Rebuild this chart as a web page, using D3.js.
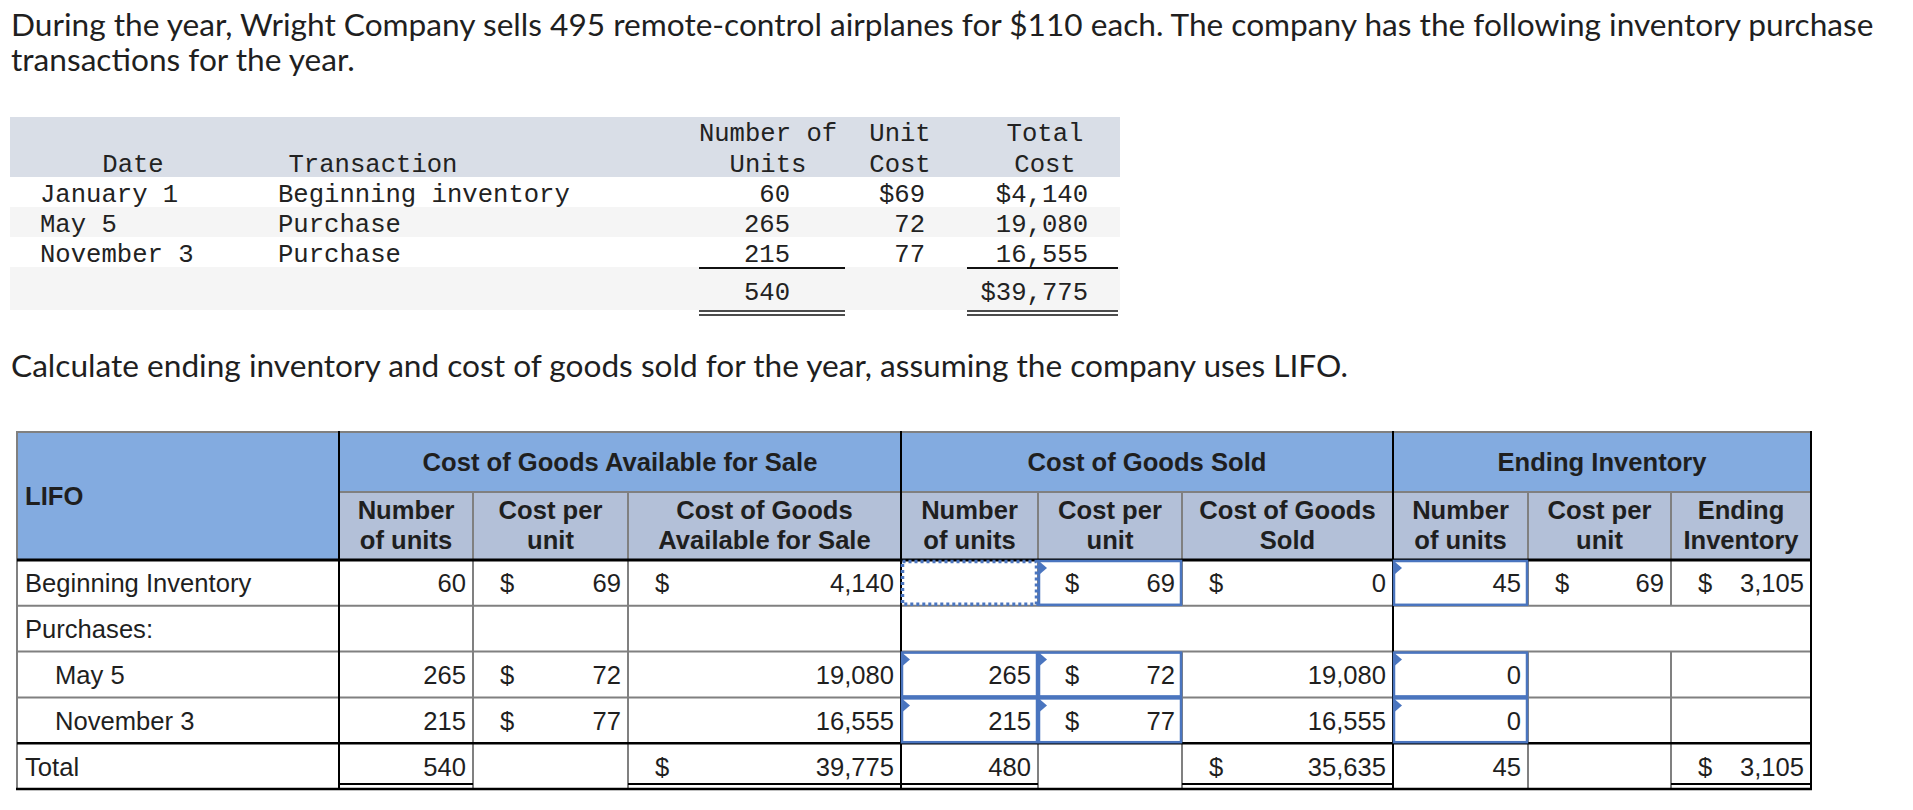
<!DOCTYPE html>
<html><head><meta charset="utf-8">
<script src="https://cdn.jsdelivr.net/npm/d3@7"></script>
<style>html,body{margin:0;padding:0;background:#fff;} svg{display:block}</style>
</head><body><svg id="c" width="1913" height="810"></svg>
<script>
// ---------------- DATA ----------------
const introLines = [
  "During the year, Wright Company sells 495 remote-control airplanes for $110 each. The company has the following inventory purchase",
  "transactions for the year."
];
const questionText = "Calculate ending inventory and cost of goods sold for the year, assuming the company uses LIFO.";

const purchaseHeaderTop = ["", "", "Number of", "Unit", "Total"];
const purchaseHeaderBottom = ["Date", "Transaction", "Units", "Cost", "Cost"];
const purchaseDates = ["January 1", "May 5", "November 3"];
const purchaseKinds = ["Beginning inventory", "Purchase", "Purchase"];
const purchaseUnits = [60, 265, 215];
const purchaseUnitCosts = [69, 72, 77];
const purchaseTotalCosts = [4140, 19080, 16555];
const purchaseUnitsTotal = 540;
const purchaseCostTotal = 39775;

const lifoTitle = "LIFO";
const lifoGroups = ["Cost of Goods Available for Sale", "Cost of Goods Sold", "Ending Inventory"];
const lifoSubHeaders = [
  ["Number", "of units"], ["Cost per", "unit"], ["Cost of Goods", "Available for Sale"],
  ["Number", "of units"], ["Cost per", "unit"], ["Cost of Goods", "Sold"],
  ["Number", "of units"], ["Cost per", "unit"], ["Ending", "Inventory"]
];
const lifoRows = ["Beginning Inventory", "Purchases:", "May 5", "November 3", "Total"];
const availUnits    = [60, null, 265, 215, 540];
const availUnitCost = [69, null, 72, 77, null];
const availCost     = [4140, null, 19080, 16555, 39775];
const soldUnits     = [null, null, 265, 215, 480];
const soldUnitCost  = [69, null, 72, 77, null];
const soldCost      = [0, null, 19080, 16555, 35635];
const endUnits      = [45, null, 0, 0, 45];
const endUnitCost   = [69, null, null, null, null];
const endCost       = [3105, null, null, null, 3105];

// ---------------- STYLE / LAYOUT ----------------
const svg = d3.select("#c");
const W = 1913, H = 810;
svg.append("rect").attr("width", W).attr("height", H).attr("fill", "#fff");
const PROSE = "Lato, 'Open Sans', sans-serif";
const MONO = "'Liberation Mono', 'Courier New', monospace";
const SANS = "'Liberation Sans', Arial, Helvetica, sans-serif";
const INK = "#1f1f1f";
const fmt = d3.format(",");

// ---- prose ----
const l1 = svg.append("text").attr("x", 11).attr("y", 36)
  .attr("font-family", PROSE).attr("font-size", 28).attr("fill", INK).text(introLines[0]);
const fitted = 28 * 1863 / l1.node().getComputedTextLength();
l1.attr("font-size", fitted);
svg.append("text").attr("x", 11).attr("y", 71)
  .attr("font-family", PROSE).attr("font-size", fitted).attr("fill", INK).text(introLines[1]);
svg.append("text").attr("x", 11).attr("y", 377)
  .attr("font-family", PROSE).attr("font-size", fitted).attr("fill", INK).text(questionText);

// ---- purchase table ----
const t1 = svg.append("g").attr("font-family", MONO).attr("font-size", 25.6).attr("fill", "#222");
const tLeft = 10, tRight = 1120;
t1.append("rect").attr("x", tLeft).attr("y", 117).attr("width", tRight - tLeft).attr("height", 60).attr("fill", "#d9dee7");
const pRow = d3.scaleBand().domain(d3.range(purchaseDates.length)).range([177, 267]);
t1.selectAll("rect.stripe").data(purchaseDates).join("rect").attr("class", "stripe")
  .attr("x", tLeft).attr("width", tRight - tLeft)
  .attr("y", (d, i) => pRow(i)).attr("height", pRow.bandwidth())
  .attr("fill", (d, i) => i % 2 ? "#f5f5f5" : "#fff");
t1.append("rect").attr("x", tLeft).attr("y", 267).attr("width", tRight - tLeft).attr("height", 43).attr("fill", "#f5f5f5");

const pColCenter = d3.scaleOrdinal().domain(d3.range(5)).range([133, 373, 768, 900, 1045]);
t1.selectAll("text.h1").data(purchaseHeaderTop).join("text").attr("class", "h1")
  .attr("x", (d, i) => pColCenter(i)).attr("y", 141).attr("text-anchor", "middle").text(d => d);
t1.selectAll("text.h2").data(purchaseHeaderBottom).join("text").attr("class", "h2")
  .attr("x", (d, i) => pColCenter(i)).attr("y", 172).attr("text-anchor", "middle").text(d => d);

const base = i => pRow(i) + pRow.bandwidth() / 2 + 10;
t1.selectAll("text.dt").data(purchaseDates).join("text").attr("class", "dt")
  .attr("x", 40).attr("y", (d, i) => base(i)).text(d => d);
t1.selectAll("text.kd").data(purchaseKinds).join("text").attr("class", "kd")
  .attr("x", 278).attr("y", (d, i) => base(i)).text(d => d);
t1.selectAll("text.un").data(purchaseUnits).join("text").attr("class", "un")
  .attr("x", 790).attr("y", (d, i) => base(i)).attr("text-anchor", "end").text(d => d);
t1.selectAll("text.uc").data(purchaseUnitCosts).join("text").attr("class", "uc")
  .attr("x", 925).attr("y", (d, i) => base(i)).attr("text-anchor", "end").text((d, i) => (i === 0 ? "$" : "") + d);
t1.selectAll("text.tc").data(purchaseTotalCosts).join("text").attr("class", "tc")
  .attr("x", 1088).attr("y", (d, i) => base(i)).attr("text-anchor", "end").text((d, i) => (i === 0 ? "$" : "") + fmt(d));
t1.append("text").attr("x", 790).attr("y", 300).attr("text-anchor", "end").text(purchaseUnitsTotal);
t1.append("text").attr("x", 1088).attr("y", 300).attr("text-anchor", "end").text("$" + fmt(purchaseCostTotal));
[[699, 845], [967, 1118]].forEach(([a, b]) => {
  t1.append("line").attr("x1", a).attr("x2", b).attr("y1", 268).attr("y2", 268).attr("stroke", "#111").attr("stroke-width", 2);
  t1.append("line").attr("x1", a).attr("x2", b).attr("y1", 311).attr("y2", 311).attr("stroke", "#111").attr("stroke-width", 1.5);
  t1.append("line").attr("x1", a).attr("x2", b).attr("y1", 315).attr("y2", 315).attr("stroke", "#111").attr("stroke-width", 1.5);
});

// ---- LIFO table ----
const colKeys = ["label", "aU", "aC", "aT", "sU", "sC", "sT", "eU", "eC", "eT"];
const colEdges = [17, 339, 473, 628, 901, 1038, 1182, 1393, 1528, 1671, 1811];
const xL = d3.scaleOrdinal().domain(colKeys).range(colEdges.slice(0, -1));
const xR = d3.scaleOrdinal().domain(colKeys).range(colEdges.slice(1));
const yRow = d3.scaleBand().domain(lifoRows).range([560, 789]);
const bw = yRow.bandwidth();
const T = svg.append("g");
const top0 = 432, mid = 492, hdrB = 560, bot = 789;
const HEAD1 = "#83abe0", HEAD2 = "#b3c0d8", GRAY = "#808080", BLUE = "#4a75bf";

// fills
T.append("rect").attr("x", 17).attr("y", top0).attr("width", 1811 - 17).attr("height", mid - top0).attr("fill", HEAD1);
T.append("rect").attr("x", 17).attr("y", mid).attr("width", 339 - 17).attr("height", hdrB - mid).attr("fill", HEAD1);
T.append("rect").attr("x", 339).attr("y", mid).attr("width", 1811 - 339).attr("height", hdrB - mid).attr("fill", HEAD2);

const hline = (x1, x2, y, c, w) => T.append("line").attr("x1", x1).attr("x2", x2).attr("y1", y).attr("y2", y).attr("stroke", c).attr("stroke-width", w);
const vline = (x, y1, y2, c, w) => T.append("line").attr("x1", x).attr("x2", x).attr("y1", y1).attr("y2", y2).attr("stroke", c).attr("stroke-width", w);

// gray grid
hline(16, 1812, top0, GRAY, 2);
hline(339, 1811, mid, GRAY, 2);
vline(17, top0, bot, GRAY, 2);
lifoRows.slice(1, 4).forEach(r => hline(17, 1811, yRow(r), GRAY, 2));
["aU", "aC", "sU", "sC", "eU", "eC"].forEach(k => vline(xR(k), mid, hdrB, GRAY, 2));
lifoRows.forEach((r, i) => {
  const ks = i === 1 ? ["aU", "aC"] : ["aU", "aC", "sU", "sC", "eU", "eC"];
  ks.forEach(k => vline(xR(k), yRow(r), yRow(r) + bw, GRAY, 2));
});
// black lines
[339, 901, 1393, 1811].forEach(x => vline(x, top0 - 1, bot + 1, "#000", 2));
hline(17, 1812, hdrB, "#000", 3);
hline(17, 1812, yRow("Total"), "#000", 2.5);
hline(16, 1812, bot, "#000", 2.5);
["aU", "aT", "sU", "sT", "eT"].forEach(k => hline(xL(k), xR(k), bot - 5, "#000", 2));

// input boxes
const inputCells = [["sC", 0], ["eU", 0], ["sU", 2], ["sC", 2], ["eU", 2], ["sU", 3], ["sC", 3], ["eU", 3]];
inputCells.forEach(([k, i]) => {
  const x = xL(k), y = yRow(lifoRows[i]), w = xR(k) - xL(k);
  T.append("rect").attr("x", x + 1).attr("y", y + 1).attr("width", w - 2).attr("height", bw - 2)
    .attr("fill", "none").attr("stroke", BLUE).attr("stroke-width", 2.5);
  T.append("path").attr("d", `M${x + 2},${y + 2}L${x + 9},${y + 8}L${x + 2},${y + 14}Z`).attr("fill", BLUE);
});
{
  const k = "sU", x = xL(k), y = yRow(lifoRows[0]), w = xR(k) - xL(k);
  T.append("rect").attr("x", x + 1.5).attr("y", y + 1.5).attr("width", w - 3).attr("height", bw - 3)
    .attr("fill", "none").attr("stroke", BLUE).attr("stroke-width", 3.5).attr("stroke-dasharray", "3,3");
}

// header texts
const TX = T.append("g").attr("font-family", SANS).attr("font-size", 25.6).attr("fill", INK);
TX.append("text").attr("x", 25).attr("y", 505).attr("font-weight", "bold").text(lifoTitle);
const groupKeys = [["aU", "aT"], ["sU", "sT"], ["eU", "eT"]];
TX.selectAll("text.grp").data(lifoGroups).join("text").attr("class", "grp")
  .attr("x", (d, i) => (xL(groupKeys[i][0]) + xR(groupKeys[i][1])) / 2).attr("y", 471)
  .attr("text-anchor", "middle").attr("font-weight", "bold").text(d => d);
const subKeys = colKeys.slice(1);
lifoSubHeaders.forEach((lines, i) => {
  const cx = (xL(subKeys[i]) + xR(subKeys[i])) / 2;
  lines.forEach((s, j) => TX.append("text").attr("x", cx).attr("y", 519 + j * 30)
    .attr("text-anchor", "middle").attr("font-weight", "bold").text(s));
});

// body texts
const rb = r => yRow(r) + bw / 2 + 9.5;
TX.selectAll("text.lab").data(lifoRows).join("text").attr("class", "lab")
  .attr("x", (d, i) => (i === 2 || i === 3) ? 55 : 25).attr("y", d => rb(d)).text(d => d);
const numCols = [
  { key: "aU", vals: availUnits, dollar: () => false },
  { key: "aC", vals: availUnitCost, dollar: v => v != null },
  { key: "aT", vals: availCost, dollar: (v, i) => i === 0 || i === 4 },
  { key: "sU", vals: soldUnits, dollar: () => false },
  { key: "sC", vals: soldUnitCost, dollar: v => v != null },
  { key: "sT", vals: soldCost, dollar: (v, i) => i === 0 || i === 4 },
  { key: "eU", vals: endUnits, dollar: () => false },
  { key: "eC", vals: endUnitCost, dollar: v => v != null },
  { key: "eT", vals: endCost, dollar: (v, i) => v != null && (i === 0 || i === 4) }
];
numCols.forEach(c => {
  c.vals.forEach((v, i) => {
    const r = lifoRows[i];
    if (v != null) TX.append("text").attr("x", xR(c.key) - 7).attr("y", rb(r)).attr("text-anchor", "end").text(fmt(v));
    if (c.dollar(v, i)) TX.append("text").attr("x", xL(c.key) + 27).attr("y", rb(r)).text("$");
  });
});
</script></body></html>
